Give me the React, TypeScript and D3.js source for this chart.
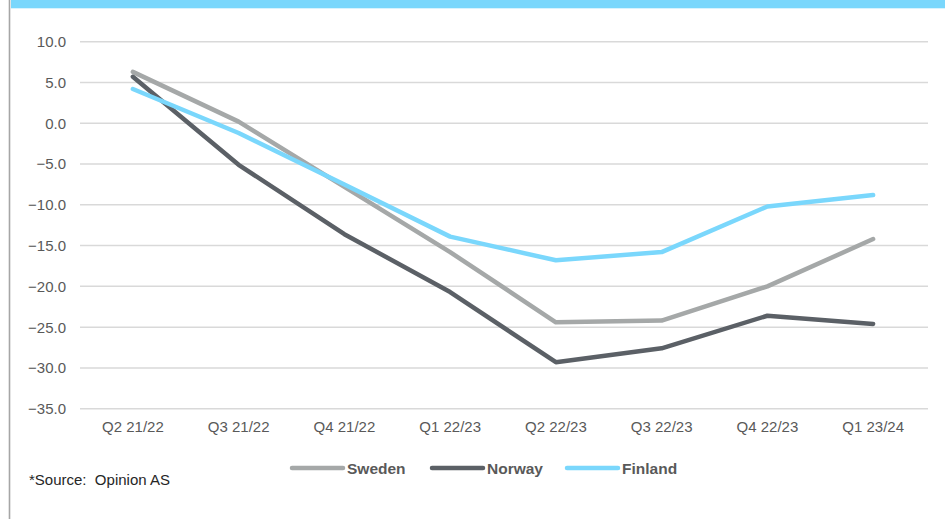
import * as d3 from 'd3';
import { useEffect, useRef } from 'react';

const quarters = ['Q2 21/22', 'Q3 21/22', 'Q4 21/22', 'Q1 22/23', 'Q2 22/23', 'Q3 22/23', 'Q4 22/23', 'Q1 23/24'];
const sweden = [6.3, 0.2, -7.8, -15.8, -24.4, -24.2, -20.0, -14.2];
const norway = [5.7, -5.1, -13.6, -20.7, -29.3, -27.6, -23.6, -24.6];
const finland = [4.2, -1.2, -7.5, -13.9, -16.8, -15.8, -10.2, -8.8];
const yTicks = [10, 5, 0, -5, -10, -15, -20, -25, -30, -35];

const seriesList = [
  { name: 'Sweden', values: sweden, color: '#a5a8a8' },
  { name: 'Norway', values: norway, color: '#5b6066' },
  { name: 'Finland', values: finland, color: '#7ad7fc' },
];

const W = 945;
const H = 519;
const FONT = '"Liberation Sans", Arial, sans-serif';

export default function App() {
  const ref = useRef<SVGSVGElement>(null);

  useEffect(() => {
    const svg = d3.select(ref.current);
    svg.selectAll('*').remove();

    const x = d3.scaleBand().domain(quarters).range([80, 926]);
    const y = d3.scaleLinear().domain([-35, 10]).range([408.7, 41.7]);

    svg.append('rect').attr('width', W).attr('height', H).attr('fill', '#fff');

    // frame remnants: top banner and left border
    svg.append('rect').attr('x', 11).attr('y', 0).attr('width', W - 11).attr('height', 8.3).attr('fill', '#7ad7fc');
    svg.append('rect').attr('x', 8.7).attr('y', 0).attr('width', 1.6).attr('height', H).attr('fill', '#a6a6a6');

    // gridlines
    svg.append('g')
      .selectAll('line')
      .data(yTicks)
      .enter()
      .append('line')
      .attr('x1', 80)
      .attr('x2', 928)
      .attr('y1', d => y(d))
      .attr('y2', d => y(d))
      .attr('stroke', '#d9d9d9')
      .attr('stroke-width', 1.5);

    // y labels
    svg.append('g')
      .selectAll('text')
      .data(yTicks)
      .enter()
      .append('text')
      .attr('x', 66)
      .attr('y', d => y(d))
      .attr('dy', '0.36em')
      .attr('text-anchor', 'end')
      .attr('font-family', FONT)
      .attr('font-size', 15)
      .attr('fill', '#595959')
      .text(d => d3.format('.1f')(d));

    // x labels
    svg.append('g')
      .selectAll('text')
      .data(quarters)
      .enter()
      .append('text')
      .attr('x', d => x(d)! + x.bandwidth() / 2)
      .attr('y', 427)
      .attr('dy', '0.36em')
      .attr('text-anchor', 'middle')
      .attr('font-family', FONT)
      .attr('font-size', 15)
      .attr('fill', '#595959')
      .text(d => d);

    const line = d3.line<number>()
      .x((_, i) => x(quarters[i])! + x.bandwidth() / 2)
      .y(d => y(d));

    svg.append('g')
      .selectAll('path')
      .data(seriesList)
      .enter()
      .append('path')
      .attr('d', d => line(d.values))
      .attr('fill', 'none')
      .attr('stroke', d => d.color)
      .attr('stroke-width', 4.5)
      .attr('stroke-linecap', 'round')
      .attr('stroke-linejoin', 'round');

    // legend
    const legendX = [290, 430, 565];
    const legend = svg.append('g')
      .selectAll('g')
      .data(seriesList)
      .enter()
      .append('g')
      .attr('transform', (_, i) => `translate(${legendX[i]},468)`);

    legend.append('line')
      .attr('x1', 2)
      .attr('x2', 53)
      .attr('stroke', d => d.color)
      .attr('stroke-width', 4.5)
      .attr('stroke-linecap', 'round');

    legend.append('text')
      .attr('x', 57)
      .attr('dy', '0.36em')
      .attr('font-family', FONT)
      .attr('font-size', 15.5)
      .attr('font-weight', 'bold')
      .attr('fill', '#595959')
      .text(d => d.name);

    svg.append('text')
      .attr('x', 29)
      .attr('y', 480)
      .attr('dy', '0.36em')
      .attr('font-family', FONT)
      .attr('font-size', 15)
      .attr('fill', '#262626')
      .style('white-space', 'pre')
      .text('*Source:  Opinion AS');

    return () => {
      svg.selectAll('*').remove();
    };
  }, []);

  return (
    <svg
      ref={ref}
      width={W}
      height={H}
      style={{ position: 'absolute', left: 0, top: 0, display: 'block' }}
    />
  );
}
